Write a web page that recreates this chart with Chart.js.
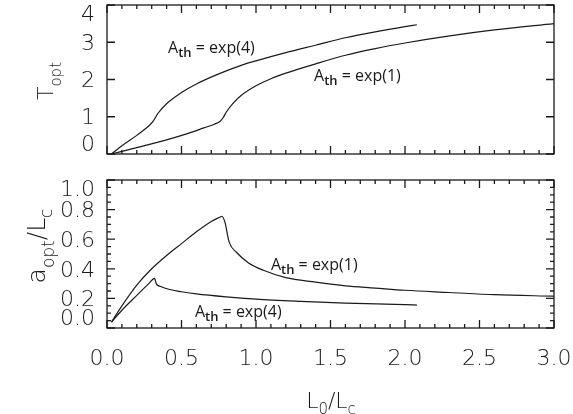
<!DOCTYPE html>
<html><head><meta charset="utf-8">
<script src="https://cdn.jsdelivr.net/npm/chart.js@4/dist/chart.umd.min.js"></script>
<style>
html,body{margin:0;padding:0;background:#fff;width:573px;height:414px;overflow:hidden}
canvas{position:absolute;left:0}
#c1{top:0}
#c2{top:170px}
</style></head><body>
<canvas id="c1" width="573" height="170"></canvas>
<canvas id="c2" width="573" height="244"></canvas>
<script>
// ---- data ----
const xTicks = [0, 0.5, 1.0, 1.5, 2.0, 2.5, 3.0];
const topYTicks = [0, 1, 2, 3, 4];
const botYTicks = [0, 0.2, 0.4, 0.6, 0.8, 1.0];

// top panel: T_opt
const tExp4X = [0.03, 0.1, 0.2, 0.28, 0.31, 0.34, 0.4, 0.5, 0.6, 0.75, 0.9, 1.0, 1.2, 1.4, 1.6, 1.8, 2.0, 2.08];
const tExp4Y = [0.0, 0.22, 0.5, 0.75, 0.88, 1.08, 1.35, 1.65, 1.88, 2.15, 2.38, 2.5, 2.72, 2.92, 3.12, 3.28, 3.42, 3.47];
const tExp1X = [0.03, 0.2, 0.4, 0.55, 0.65, 0.72, 0.76, 0.78, 0.8, 0.85, 0.9, 1.0, 1.1, 1.2, 1.4, 1.6, 1.8, 2.0, 2.3, 2.6, 3.0];
const tExp1Y = [0.0, 0.17, 0.38, 0.56, 0.7, 0.8, 0.88, 0.98, 1.12, 1.38, 1.57, 1.83, 2.02, 2.17, 2.42, 2.65, 2.83, 2.98, 3.17, 3.33, 3.5];

// bottom panel: a_opt / L_c
const aExp1X = [0.03, 0.1, 0.2, 0.3, 0.4, 0.5, 0.6, 0.7, 0.76, 0.77, 0.79, 0.82, 0.87, 0.95, 1.05, 1.2, 1.4, 1.6, 1.8, 2.0, 2.3, 2.6, 3.0];
const aExp1Y = [0.04, 0.15, 0.29, 0.4, 0.49, 0.57, 0.65, 0.72, 0.75, 0.755, 0.72, 0.58, 0.51, 0.44, 0.39, 0.34, 0.31, 0.285, 0.27, 0.255, 0.24, 0.225, 0.215];
const aExp4X = [0.03, 0.1, 0.2, 0.28, 0.32, 0.33, 0.36, 0.42, 0.5, 0.6, 0.8, 1.0, 1.3, 1.6, 2.0, 2.08];
const aExp4Y = [0.04, 0.12, 0.22, 0.3, 0.335, 0.30, 0.28, 0.26, 0.245, 0.23, 0.21, 0.195, 0.18, 0.168, 0.158, 0.155];

const pts = (xs, ys) => xs.map((x, i) => ({x, y: ys[i]}));

const TICK_FONT = '300 22px "DejaVu Sans", Roboto, sans-serif';
const TITLE_FONT = '300 25px "DejaVu Sans", Roboto, sans-serif';
const TITLE_SUB = '300 17px "DejaVu Sans", Roboto, sans-serif';
const ANN_MAIN = '16px "Open Sans", "Noto Sans", sans-serif';
const ANN_SUB = '600 13px "Open Sans", "Noto Sans", sans-serif';
const INK = '#1a1a1a';

function rich(ctx, parts, x, y, align, rot) {
  ctx.save();
  ctx.translate(x, y);
  if (rot) ctx.rotate(rot);
  ctx.textBaseline = 'alphabetic';
  ctx.textAlign = 'left';
  let w = 0;
  for (const p of parts) { ctx.font = p[1]; w += ctx.measureText(p[0]).width; }
  let cx = align === 'center' ? -w / 2 : 0;
  for (const p of parts) { ctx.font = p[1]; ctx.fillText(p[0], cx, p[2]); cx += ctx.measureText(p[0]).width; }
  ctx.restore();
}

const framePlugin = {
  id: 'frame',
  afterDatasetsDraw(chart, args, o) {
    const {ctx, chartArea: a, scales} = chart;
    const xs = scales.x, ys = scales.y;
    ctx.save();
    ctx.strokeStyle = INK;
    ctx.lineWidth = 1.3;
    ctx.strokeRect(a.left, a.top, a.right - a.left, a.bottom - a.top);
    ctx.beginPath();
    for (let i = 0; i <= 30; i++) {
      const p = xs.getPixelForValue(i / 10);
      const L = i % 5 === 0 ? 8 : 4;
      ctx.moveTo(p, a.bottom); ctx.lineTo(p, a.bottom - L);
      ctx.moveTo(p, a.top); ctx.lineTo(p, a.top + L);
    }
    for (let i = 0; i <= o.yN; i++) {
      const p = ys.getPixelForValue(i * o.yStep);
      const L = i % o.yEvery === 0 ? 8 : 4;
      ctx.moveTo(a.left, p); ctx.lineTo(a.left + L, p);
      ctx.moveTo(a.right, p); ctx.lineTo(a.right - L, p);
    }
    ctx.stroke();
    // tick labels
    ctx.fillStyle = INK;
    ctx.font = TICK_FONT;
    ctx.textAlign = 'right';
    ctx.textBaseline = 'middle';
    for (const v of o.yTicks) {
      const p = ys.getPixelForValue(v);
      const y = Math.min(Math.max(p + 2, a.top + 10), a.bottom - 9);
      ctx.fillText(o.yFmt(v), a.left - 12, y);
    }
    if (o.xLabels) {
      ctx.textAlign = 'center';
      for (const v of xTicks) {
        ctx.fillText(v.toFixed(1), xs.getPixelForValue(v), a.bottom + 31);
      }
    }
    // annotations
    ctx.fillStyle = INK;
    for (const an of o.ann) {
      const px = xs.getPixelForValue(an.x), py = ys.getPixelForValue(an.y);
      rich(ctx, [['A', ANN_MAIN, 0], ['th', ANN_SUB, 4], [' = exp(' + an.k + ')', ANN_MAIN, 0]], px, py, 'left');
    }
    if (o.titles) o.titles(ctx, a);
    ctx.restore();
  }
};

const lineDs = (data) => ({
  data, borderColor: INK, borderWidth: 1.2, pointRadius: 0,
  fill: false, cubicInterpolationMode: 'monotone'
});

const baseScales = (ymax) => ({
  x: {type: 'linear', min: 0, max: 3, display: false},
  y: {type: 'linear', min: 0, max: ymax, display: false}
});

new Chart(document.getElementById('c1'), {
  type: 'line',
  data: {datasets: [lineDs(pts(tExp4X, tExp4Y)), lineDs(pts(tExp1X, tExp1Y))]},
  options: {
    responsive: false, animation: false, events: [],
    layout: {padding: {left: 107, right: 19, top: 5, bottom: 16}},
    scales: baseScales(4),
    plugins: {
      legend: {display: false}, tooltip: {enabled: false},
      frame: {
        yN: 4, yStep: 1, yEvery: 1, yTicks: topYTicks, yFmt: v => String(v), xLabels: false,
        ann: [{x: 0.41, y: 2.72, k: 4}, {x: 1.39, y: 1.97, k: 1}],
        titles: (ctx) => {
          rich(ctx, [['T', TICK_FONT, 0], ['opt', '300 15px "DejaVu Sans", sans-serif', 8]], 53, 81, 'center', -Math.PI / 2);
        }
      }
    }
  },
  plugins: [framePlugin]
});

new Chart(document.getElementById('c2'), {
  type: 'line',
  data: {datasets: [lineDs(pts(aExp1X, aExp1Y)), lineDs(pts(aExp4X, aExp4Y))]},
  options: {
    responsive: false, animation: false, events: [],
    layout: {padding: {left: 107, right: 19, top: 10, bottom: 86}},
    scales: baseScales(1.0),
    plugins: {
      legend: {display: false}, tooltip: {enabled: false},
      frame: {
        yN: 20, yStep: 0.05, yEvery: 4, yTicks: botYTicks, yFmt: v => v.toFixed(1), xLabels: true,
        ann: [{x: 1.1, y: 0.39, k: 1}, {x: 0.59, y: 0.075, k: 4}],
        titles: (ctx, a) => {
          rich(ctx, [['a', TITLE_FONT, 0], ['opt', TITLE_SUB, 9], ['/', TITLE_FONT, 0], ['L', TITLE_FONT, 0], ['c', TITLE_SUB, 7]], 45, 76, 'center', -Math.PI / 2);
          rich(ctx, [['L', TICK_FONT, 0], ['0', '300 15px "DejaVu Sans", sans-serif', 6], ['/', TICK_FONT, 0], ['L', TICK_FONT, 0], ['c', '300 15px "DejaVu Sans", sans-serif', 6]], 331, 238, 'center', 0);
        }
      }
    }
  },
  plugins: [framePlugin]
});
</script>
</body></html>
